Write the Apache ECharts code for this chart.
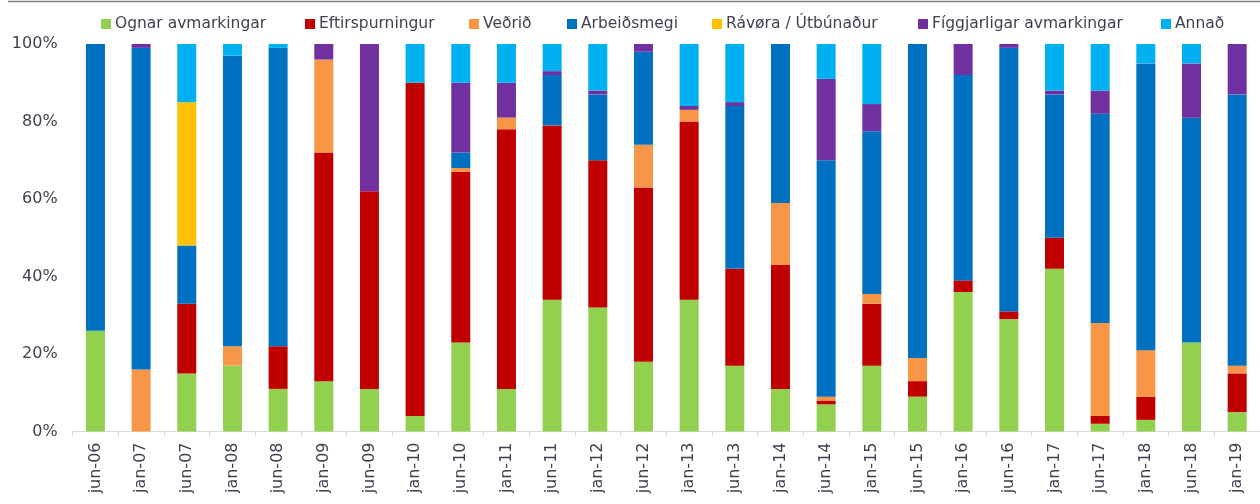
<!DOCTYPE html>
<html>
<head>
<meta charset="utf-8">
<script src="https://cdn.jsdelivr.net/npm/echarts@6/dist/echarts.min.js"></script>
<style>
  html, body { margin: 0; padding: 0; background: #fff; }
  #container { width: 1260px; height: 504px; }
</style>
</head>
<body>
<div id="container"></div>
<script>
var categories = ['jun-06', 'jan-07', 'jun-07', 'jan-08', 'jun-08', 'jan-09', 'jun-09', 'jan-10', 'jun-10', 'jan-11',
  'jun-11', 'jan-12', 'jun-12', 'jan-13', 'jun-13', 'jan-14', 'jun-14', 'jan-15', 'jun-15', 'jan-16',
  'jun-16', 'jan-17', 'jun-17', 'jan-18', 'jun-18', 'jan-19'];

var ognar        = [26, 0, 15, 17, 11, 13, 11, 4, 23, 11, 34, 32, 18, 34, 17, 11, 7, 17, 9, 36, 29, 42, 2, 3, 23, 5];
var eftirspurn   = [0, 0, 18, 0, 11, 59, 51, 86, 44, 67, 45, 38, 45, 46, 25, 32, 1, 16, 4, 3, 2, 8, 2, 6, 0, 10];
var vedrid       = [0, 16, 0, 5, 0, 24, 0, 0, 1, 3, 0, 0, 11, 3, 0, 16, 1, 2.5, 6, 0, 0, 0, 24, 12, 0, 2];
var arbeidsmegi  = [74, 83, 15, 75, 77, 0, 0, 0, 4, 0, 13, 17, 24, 0, 42, 41, 61, 42, 81, 53, 68, 37, 54, 74, 58, 70];
var ravora       = [0, 0, 37, 0, 0, 0, 0, 0, 0, 0, 0, 0, 0, 0, 0, 0, 0, 0, 0, 0, 0, 0, 0, 0, 0, 0];
var figgjarligar = [0, 1, 0, 0, 0, 4, 38, 0, 18, 9, 1, 1, 2, 1, 1, 0, 21, 7, 0, 8, 1, 1, 6, 0, 14, 13];
var annad        = [0, 0, 15, 3, 1, 0, 0, 10, 10, 10, 7, 12, 0, 16, 15, 0, 9, 15.5, 0, 0, 0, 12, 12, 5, 5, 0];

var seriesNames = ['Ognar avmarkingar', 'Eftirspurningur', 'Veðrið', 'Arbeiðsmegi', 'Rávøra / Útbúnaður', 'Fíggjarligar avmarkingar', 'Annað'];
var seriesData = [ognar, eftirspurn, vedrid, arbeidsmegi, ravora, figgjarligar, annad];
var colors = ['#92D050', '#C00000', '#F79646', '#0070C0', '#FFC000', '#7030A0', '#00B0F0'];
// left edge of each legend swatch, as in the reference
var legendLeft = [101, 305, 469, 567, 712, 918, 1161];

var textColor = '#3f3f4f';
var font = 'DejaVu Sans';

var myChart = echarts.init(document.getElementById('container'), null, { renderer: 'canvas' });

var series = seriesNames.map(function (name, i) {
  return {
    name: name,
    type: 'bar',
    stack: 'total',
    barWidth: 19,
    data: seriesData[i],
    itemStyle: { color: colors[i] }
  };
});

var legends = seriesNames.map(function (name, i) {
  return {
    left: legendLeft[i],
    top: 16,
    padding: 0,
    itemWidth: 10,
    itemHeight: 10,
    icon: 'rect',
    textStyle: { fontSize: 15.5, color: textColor, fontFamily: font, padding: [0, 0, 0, -1] },
    data: [name]
  };
});

var option = {
  animation: false,
  color: colors,
  textStyle: { fontFamily: font },
  graphic: [{
    type: 'line',
    shape: { x1: 8, y1: 1.5, x2: 1260, y2: 1.5 },
    style: { stroke: '#808080', lineWidth: 1.5 }
  }],
  legend: legends,
  grid: {
    left: 72.6,
    top: 44,
    width: 1189.2,
    height: 387.5
  },
  xAxis: {
    type: 'category',
    data: categories,
    axisLine: { lineStyle: { color: '#d9d9d9', width: 1 } },
    axisTick: { show: true, length: 5, lineStyle: { color: '#d9d9d9' } },
    axisLabel: {
      rotate: 90,
      margin: 11,
      fontSize: 16,
      color: textColor,
      fontFamily: font,
      interval: 0
    }
  },
  yAxis: {
    type: 'value',
    min: 0,
    max: 100,
    interval: 20,
    axisLine: { show: false },
    axisTick: { show: false },
    splitLine: { show: false },
    axisLabel: {
      margin: 15,
      fontSize: 16,
      color: textColor,
      fontFamily: font,
      formatter: '{value}%'
    }
  },
  series: series
};
myChart.setOption(option);
</script>
</body>
</html>
